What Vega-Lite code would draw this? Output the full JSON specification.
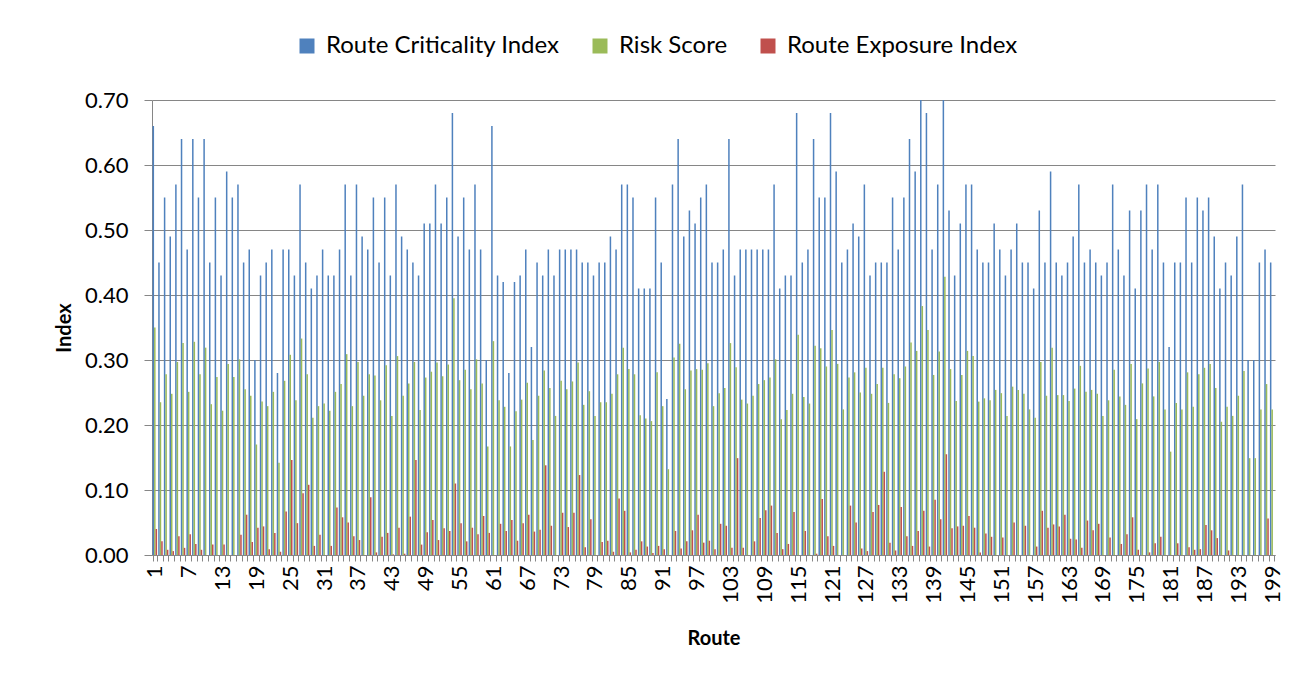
{
"$schema": "https://vega.github.io/schema/vega-lite/v6.json",
"width": 1123, "height": 455,
"autosize": {"type": "none"},
"padding": {"left": 152, "top": 100, "right": 30, "bottom": 130},
"background": "white",
"data": {"values": [
{"r":1,"Route Criticality Index":0.66,"Risk Score":0.35,"Route Exposure Index":0.040},
{"r":2,"Route Criticality Index":0.45,"Risk Score":0.235,"Route Exposure Index":0.021},
{"r":3,"Route Criticality Index":0.55,"Risk Score":0.278,"Route Exposure Index":0.008},
{"r":4,"Route Criticality Index":0.49,"Risk Score":0.248,"Route Exposure Index":0.006},
{"r":5,"Route Criticality Index":0.57,"Risk Score":0.297,"Route Exposure Index":0.029},
{"r":6,"Route Criticality Index":0.64,"Risk Score":0.326,"Route Exposure Index":0.011},
{"r":7,"Route Criticality Index":0.47,"Risk Score":0.251,"Route Exposure Index":0.032},
{"r":8,"Route Criticality Index":0.64,"Risk Score":0.328,"Route Exposure Index":0.017},
{"r":9,"Route Criticality Index":0.55,"Risk Score":0.278,"Route Exposure Index":0.008},
{"r":10,"Route Criticality Index":0.64,"Risk Score":0.319,"Route Exposure Index":0},
{"r":11,"Route Criticality Index":0.45,"Risk Score":0.232,"Route Exposure Index":0.016},
{"r":12,"Route Criticality Index":0.55,"Risk Score":0.274,"Route Exposure Index":0},
{"r":13,"Route Criticality Index":0.43,"Risk Score":0.222,"Route Exposure Index":0.016},
{"r":14,"Route Criticality Index":0.59,"Risk Score":0.294,"Route Exposure Index":0},
{"r":15,"Route Criticality Index":0.55,"Risk Score":0.274,"Route Exposure Index":0},
{"r":16,"Route Criticality Index":0.57,"Risk Score":0.301,"Route Exposure Index":0.031},
{"r":17,"Route Criticality Index":0.45,"Risk Score":0.255,"Route Exposure Index":0.062},
{"r":18,"Route Criticality Index":0.47,"Risk Score":0.245,"Route Exposure Index":0.020},
{"r":19,"Route Criticality Index":0.30,"Risk Score":0.17,"Route Exposure Index":0.042},
{"r":20,"Route Criticality Index":0.43,"Risk Score":0.236,"Route Exposure Index":0.044},
{"r":21,"Route Criticality Index":0.45,"Risk Score":0.229,"Route Exposure Index":0.009},
{"r":22,"Route Criticality Index":0.47,"Risk Score":0.251,"Route Exposure Index":0.034},
{"r":23,"Route Criticality Index":0.28,"Risk Score":0.142,"Route Exposure Index":0.005},
{"r":24,"Route Criticality Index":0.47,"Risk Score":0.268,"Route Exposure Index":0.067},
{"r":25,"Route Criticality Index":0.47,"Risk Score":0.308,"Route Exposure Index":0.146},
{"r":26,"Route Criticality Index":0.43,"Risk Score":0.238,"Route Exposure Index":0.049},
{"r":27,"Route Criticality Index":0.57,"Risk Score":0.333,"Route Exposure Index":0.095},
{"r":28,"Route Criticality Index":0.45,"Risk Score":0.278,"Route Exposure Index":0.108},
{"r":29,"Route Criticality Index":0.41,"Risk Score":0.211,"Route Exposure Index":0.014},
{"r":30,"Route Criticality Index":0.43,"Risk Score":0.229,"Route Exposure Index":0.031},
{"r":31,"Route Criticality Index":0.47,"Risk Score":0.233,"Route Exposure Index":0},
{"r":32,"Route Criticality Index":0.43,"Risk Score":0.222,"Route Exposure Index":0.014},
{"r":33,"Route Criticality Index":0.43,"Risk Score":0.251,"Route Exposure Index":0.073},
{"r":34,"Route Criticality Index":0.47,"Risk Score":0.263,"Route Exposure Index":0.058},
{"r":35,"Route Criticality Index":0.57,"Risk Score":0.309,"Route Exposure Index":0.050},
{"r":36,"Route Criticality Index":0.43,"Risk Score":0.229,"Route Exposure Index":0.029},
{"r":37,"Route Criticality Index":0.57,"Risk Score":0.297,"Route Exposure Index":0.023},
{"r":38,"Route Criticality Index":0.49,"Risk Score":0.245,"Route Exposure Index":0},
{"r":39,"Route Criticality Index":0.47,"Risk Score":0.278,"Route Exposure Index":0.089},
{"r":40,"Route Criticality Index":0.55,"Risk Score":0.276,"Route Exposure Index":0.004},
{"r":41,"Route Criticality Index":0.45,"Risk Score":0.238,"Route Exposure Index":0.028},
{"r":42,"Route Criticality Index":0.55,"Risk Score":0.292,"Route Exposure Index":0.034},
{"r":43,"Route Criticality Index":0.43,"Risk Score":0.214,"Route Exposure Index":0.001},
{"r":44,"Route Criticality Index":0.57,"Risk Score":0.306,"Route Exposure Index":0.042},
{"r":45,"Route Criticality Index":0.49,"Risk Score":0.245,"Route Exposure Index":0.002},
{"r":46,"Route Criticality Index":0.47,"Risk Score":0.264,"Route Exposure Index":0.059},
{"r":47,"Route Criticality Index":0.45,"Risk Score":0.297,"Route Exposure Index":0.146},
{"r":48,"Route Criticality Index":0.43,"Risk Score":0.223,"Route Exposure Index":0.016},
{"r":49,"Route Criticality Index":0.51,"Risk Score":0.273,"Route Exposure Index":0.035},
{"r":50,"Route Criticality Index":0.51,"Risk Score":0.282,"Route Exposure Index":0.054},
{"r":51,"Route Criticality Index":0.57,"Risk Score":0.296,"Route Exposure Index":0.023},
{"r":52,"Route Criticality Index":0.51,"Risk Score":0.275,"Route Exposure Index":0.041},
{"r":53,"Route Criticality Index":0.55,"Risk Score":0.293,"Route Exposure Index":0.037},
{"r":54,"Route Criticality Index":0.68,"Risk Score":0.395,"Route Exposure Index":0.110},
{"r":55,"Route Criticality Index":0.49,"Risk Score":0.269,"Route Exposure Index":0.049},
{"r":56,"Route Criticality Index":0.55,"Risk Score":0.285,"Route Exposure Index":0.021},
{"r":57,"Route Criticality Index":0.47,"Risk Score":0.255,"Route Exposure Index":0.042},
{"r":58,"Route Criticality Index":0.57,"Risk Score":0.301,"Route Exposure Index":0.032},
{"r":59,"Route Criticality Index":0.47,"Risk Score":0.264,"Route Exposure Index":0.060},
{"r":60,"Route Criticality Index":0.30,"Risk Score":0.167,"Route Exposure Index":0.034},
{"r":61,"Route Criticality Index":0.66,"Risk Score":0.329,"Route Exposure Index":0},
{"r":62,"Route Criticality Index":0.43,"Risk Score":0.238,"Route Exposure Index":0.048},
{"r":63,"Route Criticality Index":0.42,"Risk Score":0.228,"Route Exposure Index":0.037},
{"r":64,"Route Criticality Index":0.28,"Risk Score":0.167,"Route Exposure Index":0.054},
{"r":65,"Route Criticality Index":0.42,"Risk Score":0.221,"Route Exposure Index":0.022},
{"r":66,"Route Criticality Index":0.43,"Risk Score":0.239,"Route Exposure Index":0.049},
{"r":67,"Route Criticality Index":0.47,"Risk Score":0.265,"Route Exposure Index":0.062},
{"r":68,"Route Criticality Index":0.32,"Risk Score":0.177,"Route Exposure Index":0.036},
{"r":69,"Route Criticality Index":0.45,"Risk Score":0.245,"Route Exposure Index":0.039},
{"r":70,"Route Criticality Index":0.43,"Risk Score":0.284,"Route Exposure Index":0.138},
{"r":71,"Route Criticality Index":0.47,"Risk Score":0.257,"Route Exposure Index":0.045},
{"r":72,"Route Criticality Index":0.43,"Risk Score":0.214,"Route Exposure Index":0},
{"r":73,"Route Criticality Index":0.47,"Risk Score":0.268,"Route Exposure Index":0.065},
{"r":74,"Route Criticality Index":0.47,"Risk Score":0.255,"Route Exposure Index":0.043},
{"r":75,"Route Criticality Index":0.47,"Risk Score":0.267,"Route Exposure Index":0.065},
{"r":76,"Route Criticality Index":0.47,"Risk Score":0.296,"Route Exposure Index":0.123},
{"r":77,"Route Criticality Index":0.45,"Risk Score":0.231,"Route Exposure Index":0.012},
{"r":78,"Route Criticality Index":0.45,"Risk Score":0.252,"Route Exposure Index":0.055},
{"r":79,"Route Criticality Index":0.43,"Risk Score":0.214,"Route Exposure Index":0},
{"r":80,"Route Criticality Index":0.45,"Risk Score":0.235,"Route Exposure Index":0.020},
{"r":81,"Route Criticality Index":0.45,"Risk Score":0.235,"Route Exposure Index":0.022},
{"r":82,"Route Criticality Index":0.49,"Risk Score":0.248,"Route Exposure Index":0.005},
{"r":83,"Route Criticality Index":0.47,"Risk Score":0.278,"Route Exposure Index":0.087},
{"r":84,"Route Criticality Index":0.57,"Risk Score":0.319,"Route Exposure Index":0.068},
{"r":85,"Route Criticality Index":0.57,"Risk Score":0.286,"Route Exposure Index":0.004},
{"r":86,"Route Criticality Index":0.55,"Risk Score":0.278,"Route Exposure Index":0.008},
{"r":87,"Route Criticality Index":0.41,"Risk Score":0.215,"Route Exposure Index":0.021},
{"r":88,"Route Criticality Index":0.41,"Risk Score":0.210,"Route Exposure Index":0.013},
{"r":89,"Route Criticality Index":0.41,"Risk Score":0.206,"Route Exposure Index":0.003},
{"r":90,"Route Criticality Index":0.55,"Risk Score":0.281,"Route Exposure Index":0.014},
{"r":91,"Route Criticality Index":0.45,"Risk Score":0.229,"Route Exposure Index":0.009},
{"r":92,"Route Criticality Index":0.24,"Risk Score":0.132,"Route Exposure Index":0},
{"r":93,"Route Criticality Index":0.57,"Risk Score":0.304,"Route Exposure Index":0.037},
{"r":94,"Route Criticality Index":0.64,"Risk Score":0.325,"Route Exposure Index":0.010},
{"r":95,"Route Criticality Index":0.49,"Risk Score":0.255,"Route Exposure Index":0.021},
{"r":96,"Route Criticality Index":0.53,"Risk Score":0.284,"Route Exposure Index":0.038},
{"r":97,"Route Criticality Index":0.51,"Risk Score":0.286,"Route Exposure Index":0.062},
{"r":98,"Route Criticality Index":0.55,"Risk Score":0.285,"Route Exposure Index":0.019},
{"r":99,"Route Criticality Index":0.57,"Risk Score":0.295,"Route Exposure Index":0.022},
{"r":100,"Route Criticality Index":0.45,"Risk Score":0.229,"Route Exposure Index":0.009},
{"r":101,"Route Criticality Index":0.45,"Risk Score":0.249,"Route Exposure Index":0.048},
{"r":102,"Route Criticality Index":0.47,"Risk Score":0.257,"Route Exposure Index":0.045},
{"r":103,"Route Criticality Index":0.64,"Risk Score":0.326,"Route Exposure Index":0.011},
{"r":104,"Route Criticality Index":0.43,"Risk Score":0.289,"Route Exposure Index":0.149},
{"r":105,"Route Criticality Index":0.47,"Risk Score":0.239,"Route Exposure Index":0.011},
{"r":106,"Route Criticality Index":0.47,"Risk Score":0.233,"Route Exposure Index":0},
{"r":107,"Route Criticality Index":0.47,"Risk Score":0.245,"Route Exposure Index":0.021},
{"r":108,"Route Criticality Index":0.47,"Risk Score":0.263,"Route Exposure Index":0.057},
{"r":109,"Route Criticality Index":0.47,"Risk Score":0.269,"Route Exposure Index":0.069},
{"r":110,"Route Criticality Index":0.47,"Risk Score":0.273,"Route Exposure Index":0.076},
{"r":111,"Route Criticality Index":0.57,"Risk Score":0.301,"Route Exposure Index":0.034},
{"r":112,"Route Criticality Index":0.41,"Risk Score":0.209,"Route Exposure Index":0.009},
{"r":113,"Route Criticality Index":0.43,"Risk Score":0.223,"Route Exposure Index":0.017},
{"r":114,"Route Criticality Index":0.43,"Risk Score":0.248,"Route Exposure Index":0.066},
{"r":115,"Route Criticality Index":0.68,"Risk Score":0.339,"Route Exposure Index":0},
{"r":116,"Route Criticality Index":0.45,"Risk Score":0.243,"Route Exposure Index":0.037},
{"r":117,"Route Criticality Index":0.47,"Risk Score":0.233,"Route Exposure Index":0},
{"r":118,"Route Criticality Index":0.64,"Risk Score":0.322,"Route Exposure Index":0.002},
{"r":119,"Route Criticality Index":0.55,"Risk Score":0.318,"Route Exposure Index":0.086},
{"r":120,"Route Criticality Index":0.55,"Risk Score":0.290,"Route Exposure Index":0.029},
{"r":121,"Route Criticality Index":0.68,"Risk Score":0.346,"Route Exposure Index":0.014},
{"r":122,"Route Criticality Index":0.59,"Risk Score":0.294,"Route Exposure Index":0},
{"r":123,"Route Criticality Index":0.45,"Risk Score":0.224,"Route Exposure Index":0},
{"r":124,"Route Criticality Index":0.47,"Risk Score":0.273,"Route Exposure Index":0.076},
{"r":125,"Route Criticality Index":0.51,"Risk Score":0.281,"Route Exposure Index":0.050},
{"r":126,"Route Criticality Index":0.49,"Risk Score":0.250,"Route Exposure Index":0.010},
{"r":127,"Route Criticality Index":0.57,"Risk Score":0.288,"Route Exposure Index":0.006},
{"r":128,"Route Criticality Index":0.43,"Risk Score":0.248,"Route Exposure Index":0.066},
{"r":129,"Route Criticality Index":0.45,"Risk Score":0.263,"Route Exposure Index":0.077},
{"r":130,"Route Criticality Index":0.45,"Risk Score":0.288,"Route Exposure Index":0.128},
{"r":131,"Route Criticality Index":0.45,"Risk Score":0.234,"Route Exposure Index":0.019},
{"r":132,"Route Criticality Index":0.55,"Risk Score":0.278,"Route Exposure Index":0.007},
{"r":133,"Route Criticality Index":0.47,"Risk Score":0.272,"Route Exposure Index":0.074},
{"r":134,"Route Criticality Index":0.55,"Risk Score":0.290,"Route Exposure Index":0.029},
{"r":135,"Route Criticality Index":0.64,"Risk Score":0.327,"Route Exposure Index":0.014},
{"r":136,"Route Criticality Index":0.59,"Risk Score":0.314,"Route Exposure Index":0.037},
{"r":137,"Route Criticality Index":0.70,"Risk Score":0.383,"Route Exposure Index":0.068},
{"r":138,"Route Criticality Index":0.68,"Risk Score":0.346,"Route Exposure Index":0.013},
{"r":139,"Route Criticality Index":0.47,"Risk Score":0.277,"Route Exposure Index":0.085},
{"r":140,"Route Criticality Index":0.57,"Risk Score":0.313,"Route Exposure Index":0.055},
{"r":141,"Route Criticality Index":0.70,"Risk Score":0.428,"Route Exposure Index":0.155},
{"r":142,"Route Criticality Index":0.53,"Risk Score":0.286,"Route Exposure Index":0.041},
{"r":143,"Route Criticality Index":0.43,"Risk Score":0.237,"Route Exposure Index":0.044},
{"r":144,"Route Criticality Index":0.51,"Risk Score":0.277,"Route Exposure Index":0.045},
{"r":145,"Route Criticality Index":0.57,"Risk Score":0.314,"Route Exposure Index":0.060},
{"r":146,"Route Criticality Index":0.57,"Risk Score":0.306,"Route Exposure Index":0.042},
{"r":147,"Route Criticality Index":0.47,"Risk Score":0.236,"Route Exposure Index":0.004},
{"r":148,"Route Criticality Index":0.45,"Risk Score":0.241,"Route Exposure Index":0.033},
{"r":149,"Route Criticality Index":0.45,"Risk Score":0.238,"Route Exposure Index":0.028},
{"r":150,"Route Criticality Index":0.51,"Risk Score":0.254,"Route Exposure Index":0},
{"r":151,"Route Criticality Index":0.47,"Risk Score":0.249,"Route Exposure Index":0.027},
{"r":152,"Route Criticality Index":0.43,"Risk Score":0.214,"Route Exposure Index":0},
{"r":153,"Route Criticality Index":0.47,"Risk Score":0.259,"Route Exposure Index":0.050},
{"r":154,"Route Criticality Index":0.51,"Risk Score":0.254,"Route Exposure Index":0},
{"r":155,"Route Criticality Index":0.45,"Risk Score":0.248,"Route Exposure Index":0.045},
{"r":156,"Route Criticality Index":0.45,"Risk Score":0.224,"Route Exposure Index":0},
{"r":157,"Route Criticality Index":0.41,"Risk Score":0.211,"Route Exposure Index":0.013},
{"r":158,"Route Criticality Index":0.53,"Risk Score":0.297,"Route Exposure Index":0.068},
{"r":159,"Route Criticality Index":0.45,"Risk Score":0.245,"Route Exposure Index":0.042},
{"r":160,"Route Criticality Index":0.59,"Risk Score":0.319,"Route Exposure Index":0.047},
{"r":161,"Route Criticality Index":0.45,"Risk Score":0.246,"Route Exposure Index":0.044},
{"r":162,"Route Criticality Index":0.43,"Risk Score":0.246,"Route Exposure Index":0.062},
{"r":163,"Route Criticality Index":0.45,"Risk Score":0.237,"Route Exposure Index":0.025},
{"r":164,"Route Criticality Index":0.49,"Risk Score":0.256,"Route Exposure Index":0.024},
{"r":165,"Route Criticality Index":0.57,"Risk Score":0.291,"Route Exposure Index":0.011},
{"r":166,"Route Criticality Index":0.45,"Risk Score":0.251,"Route Exposure Index":0.053},
{"r":167,"Route Criticality Index":0.47,"Risk Score":0.254,"Route Exposure Index":0.038},
{"r":168,"Route Criticality Index":0.45,"Risk Score":0.248,"Route Exposure Index":0.048},
{"r":169,"Route Criticality Index":0.43,"Risk Score":0.214,"Route Exposure Index":0},
{"r":170,"Route Criticality Index":0.45,"Risk Score":0.238,"Route Exposure Index":0.027},
{"r":171,"Route Criticality Index":0.57,"Risk Score":0.285,"Route Exposure Index":0},
{"r":172,"Route Criticality Index":0.47,"Risk Score":0.244,"Route Exposure Index":0.017},
{"r":173,"Route Criticality Index":0.43,"Risk Score":0.231,"Route Exposure Index":0.032},
{"r":174,"Route Criticality Index":0.53,"Risk Score":0.294,"Route Exposure Index":0.058},
{"r":175,"Route Criticality Index":0.41,"Risk Score":0.209,"Route Exposure Index":0.008},
{"r":176,"Route Criticality Index":0.53,"Risk Score":0.264,"Route Exposure Index":0},
{"r":177,"Route Criticality Index":0.57,"Risk Score":0.287,"Route Exposure Index":0.004},
{"r":178,"Route Criticality Index":0.47,"Risk Score":0.244,"Route Exposure Index":0.018},
{"r":179,"Route Criticality Index":0.57,"Risk Score":0.297,"Route Exposure Index":0.028},
{"r":180,"Route Criticality Index":0.45,"Risk Score":0.224,"Route Exposure Index":0},
{"r":181,"Route Criticality Index":0.32,"Risk Score":0.159,"Route Exposure Index":0},
{"r":182,"Route Criticality Index":0.45,"Risk Score":0.234,"Route Exposure Index":0.018},
{"r":183,"Route Criticality Index":0.45,"Risk Score":0.224,"Route Exposure Index":0},
{"r":184,"Route Criticality Index":0.55,"Risk Score":0.281,"Route Exposure Index":0.012},
{"r":185,"Route Criticality Index":0.45,"Risk Score":0.228,"Route Exposure Index":0.008},
{"r":186,"Route Criticality Index":0.55,"Risk Score":0.278,"Route Exposure Index":0.009},
{"r":187,"Route Criticality Index":0.53,"Risk Score":0.288,"Route Exposure Index":0.046},
{"r":188,"Route Criticality Index":0.55,"Risk Score":0.294,"Route Exposure Index":0.038},
{"r":189,"Route Criticality Index":0.49,"Risk Score":0.257,"Route Exposure Index":0.026},
{"r":190,"Route Criticality Index":0.41,"Risk Score":0.205,"Route Exposure Index":0},
{"r":191,"Route Criticality Index":0.45,"Risk Score":0.228,"Route Exposure Index":0.007},
{"r":192,"Route Criticality Index":0.43,"Risk Score":0.214,"Route Exposure Index":0},
{"r":193,"Route Criticality Index":0.49,"Risk Score":0.245,"Route Exposure Index":0},
{"r":194,"Route Criticality Index":0.57,"Risk Score":0.283,"Route Exposure Index":0},
{"r":195,"Route Criticality Index":0.30,"Risk Score":0.149,"Route Exposure Index":0},
{"r":196,"Route Criticality Index":0.30,"Risk Score":0.149,"Route Exposure Index":0},
{"r":197,"Route Criticality Index":0.45,"Risk Score":0.224,"Route Exposure Index":0},
{"r":198,"Route Criticality Index":0.47,"Risk Score":0.263,"Route Exposure Index":0.056},
{"r":199,"Route Criticality Index":0.45,"Risk Score":0.224,"Route Exposure Index":0}
]},
"transform": [{"fold": ["Route Criticality Index", "Risk Score", "Route Exposure Index"], "as": ["Series", "Value"]}],
"mark": {"type": "bar", "clip": true},
"encoding": {
  "x": {"field": "r", "type": "ordinal", "sort": "ascending",
    "scale": {"paddingInner": 0.2, "paddingOuter": 0.1},
    "axis": {"title": "Route", "labelAngle": -90, "labelExpr": "(datum.value - 1) % 6 == 0 ? datum.label : ''",
      "labelOverlap": false, "tickBand": "extent", "tickSize": 6, "labelPadding": 4, "labelFontSize": 22,
      "titlePadding": 25, "titleFontSize": 20, "titleFontWeight": "bold", "grid": false}},
  "xOffset": {"field": "Series", "type": "nominal", "sort": ["Route Criticality Index", "Risk Score", "Route Exposure Index"],
    "scale": {"paddingInner": 0, "paddingOuter": 0}},
  "y": {"field": "Value", "type": "quantitative",
    "scale": {"domain": [0, 0.7], "nice": false},
    "axis": {"title": "Index", "format": ".2f", "values": [0, 0.1, 0.2, 0.3, 0.4, 0.5, 0.6, 0.7],
      "tickSize": 8, "labelPadding": 16, "labelFontSize": 22, "titlePadding": 10, "titleFontSize": 20, "titleFontWeight": "bold",
      "grid": true, "gridColor": "#868686", "gridWidth": 1, "gridOpacity": 1}},
  "color": {"field": "Series", "type": "nominal", "sort": ["Route Criticality Index", "Risk Score", "Route Exposure Index"],
    "scale": {"domain": ["Route Criticality Index", "Risk Score", "Route Exposure Index"], "range": ["#4F81BD", "#9BBB59", "#C0504D"]},
    "legend": {"title": null, "orient": "none", "legendX": 143, "legendY": -66, "direction": "horizontal",
      "symbolType": "square", "symbolSize": 225, "symbolStrokeWidth": 0, "labelFontSize": 24, "labelOffset": 7,
      "columnPadding": 28, "labelLimit": 400, "padding": 0, "labelColor": "#000000"}}
},
"config": {
  "font": "Lato",
  "view": {"stroke": null},
  "axis": {"domainColor": "#868686", "tickColor": "#868686", "labelColor": "#000000", "titleColor": "#000000", "domainWidth": 1, "tickWidth": 1}
}
}
